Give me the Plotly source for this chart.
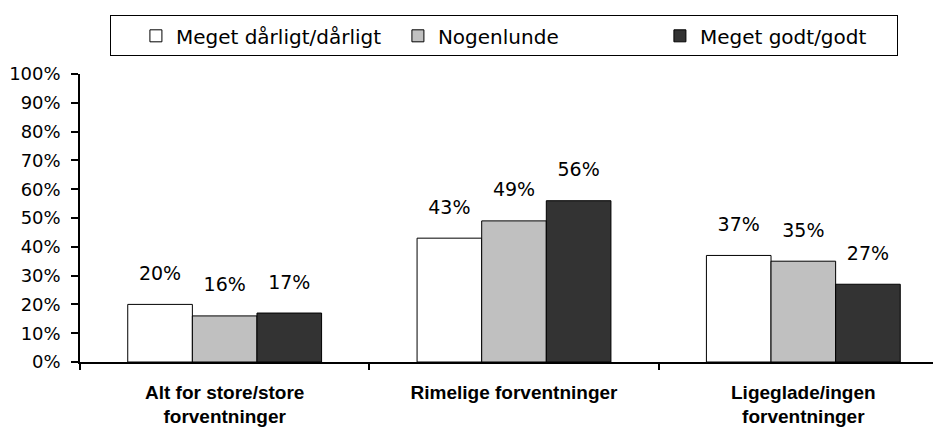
import plotly.graph_objects as go

categories = [
    "Alt for store/store<br>forventninger",
    "Rimelige forventninger",
    "Ligeglade/ingen<br>forventninger",
]
series_names = ["Meget dårligt/dårligt", "Nogenlunde", "Meget godt/godt"]
bad_values = [20, 43, 37]
fair_values = [16, 49, 35]
good_values = [17, 56, 27]
y_ticks = [0, 10, 20, 30, 40, 50, 60, 70, 80, 90, 100]

SERIES_COLORS = ("#ffffff", "#c0c0c0", "#333333")
LABEL_FONT = "DejaVu Sans, Verdana, sans-serif"
GAP = 0.33

fig = go.Figure()
for name, values, color in zip(series_names, [bad_values, fair_values, good_values], SERIES_COLORS):
    fig.add_trace(
        go.Bar(
            x=categories,
            y=values,
            name=name,
            marker={"color": color, "line": {"color": "#000000", "width": 1}},
        )
    )

# value labels sit a fixed distance above each bar (invisible marker sets the gap)
for name, values in zip(series_names, [bad_values, fair_values, good_values]):
    fig.add_trace(
        go.Scatter(
            x=categories,
            y=values,
            mode="markers+text",
            text=[f"{v}%" for v in values],
            textposition="top center",
            textfont={"family": LABEL_FONT, "size": 19, "color": "#000000"},
            marker={"size": 30, "opacity": 0},
            showlegend=False,
            hoverinfo="skip",
            cliponaxis=False,
        )
    )

fig.update_layout(
    width=941,
    height=428,
    plot_bgcolor="#ffffff",
    paper_bgcolor="#ffffff",
    barmode="group",
    bargap=GAP,
    bargroupgap=0,
    scattermode="group",
    scattergap=GAP,
    margin={"l": 72, "r": 1, "t": 66, "b": 74},
    font={"family": LABEL_FONT, "color": "#000000"},
    legend={
        "orientation": "h",
        "xref": "container",
        "x": 0.527,
        "xanchor": "center",
        "yref": "container",
        "y": 0.935,
        "yanchor": "middle",
        "bordercolor": "#000000",
        "borderwidth": 1,
        "bgcolor": "#ffffff",
        "font": {"size": 20},
        "entrywidth": 192,
        "indentation": 25,
    },
)
fig.update_yaxes(
    range=[0, 100],
    tickvals=y_ticks,
    ticktext=[f"{v}%" for v in y_ticks],
    ticks="outside",
    ticklen=7,
    tickwidth=1.5,
    tickcolor="#000000",
    showline=True,
    linecolor="#000000",
    linewidth=1.5,
    showgrid=False,
    zeroline=False,
    tickfont={"size": 18},
    ticklabelstandoff=7,
    automargin=False,
)
fig.update_xaxes(
    range=[-0.5, 2.5],
    tickson="boundaries",
    ticks="outside",
    ticklen=6,
    tickwidth=1.5,
    tickcolor="#000000",
    showline=True,
    linecolor="#000000",
    linewidth=1.5,
    showgrid=False,
    tickfont={"family": "Liberation Sans, Arial, sans-serif", "size": 19, "weight": "bold"},
    ticklabelstandoff=12,
    automargin=False,
)

fig.write_html("out.html")
